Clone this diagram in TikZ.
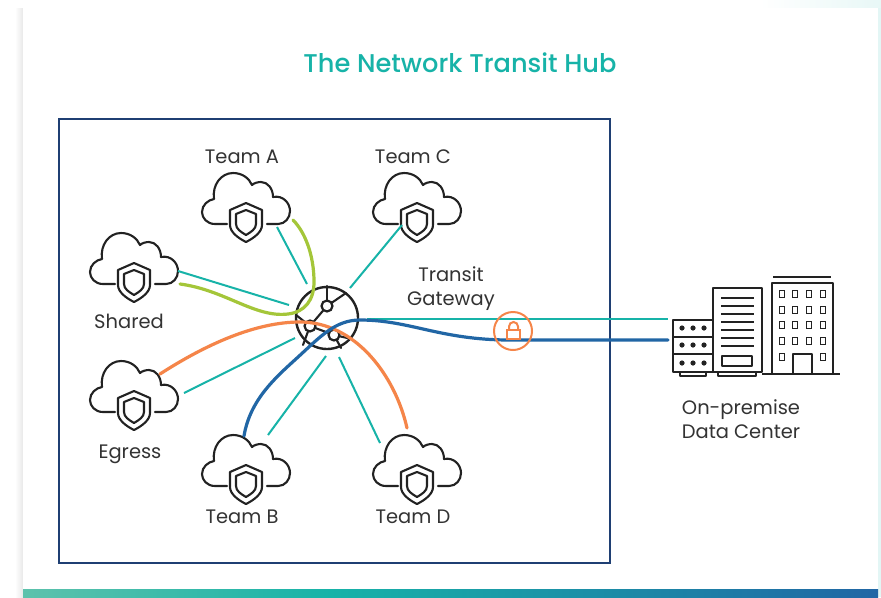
\documentclass[tikz,border=0pt]{standalone}
\usepackage{fontspec}
\setmainfont{Poppins}
\newfontfamily\titlefont{Poppins Medium}
\definecolor{tealc}{HTML}{17B3A8}
\definecolor{greenc}{HTML}{A4C639}
\definecolor{orangec}{HTML}{F58549}
\definecolor{bluec}{HTML}{2166A5}
\definecolor{navyc}{HTML}{1F3F73}
\definecolor{inkc}{HTML}{222222}
\definecolor{labelc}{HTML}{333333}
\definecolor{barstart}{HTML}{5DC2AC}
\tikzset{
  teallink/.style={draw=tealc,line width=2pt*0.75},
  greenlink/.style={draw=greenc,line width=3.2pt*0.75,line cap=round},
  orangelink/.style={draw=orangec,line width=3.2pt*0.75,line cap=round},
  bluelink/.style={draw=bluec,line width=3.2pt*0.75,line cap=round},
  lab/.style={text=labelc,font=\fontsize{14.6}{17}\selectfont,align=center,inner sep=0pt},
  ink/.style={draw=inkc,line width=2.1pt*0.75,line cap=round,line join=round},
  inkthin/.style={draw=inkc,line width=1.8pt*0.75},
  hubsmall/.style={circle,draw=inkc,line width=2.2pt*0.75,fill=white,minimum size=11*0.75pt,inner sep=0pt},
  lockline/.style={draw=orangec,line width=2pt*0.75},
  pics/cloudshield/.style={code={
    \draw[ink] (-19,1) -- (-31,1) .. controls (-39,1) and (-44,-5) .. (-44,-11)
      .. controls (-44,-18) and (-38,-23) .. (-32,-24)
      .. controls (-34,-38) and (-25,-50) .. (-13,-50)
      .. controls (-4,-50) and (3,-45) .. (6,-38)
      .. controls (8,-40) and (12,-41) .. (15,-41)
      .. controls (22,-41) and (27,-34) .. (27,-26)
      .. controls (37,-28) and (44,-20) .. (44,-12)
      .. controls (44,-5) and (39,1) .. (32,1) -- (21,1);
    \draw[ink] (0,-20) -- (16,-13) -- (16,2) .. controls (16,9) and (8,15) .. (0,19)
      .. controls (-8,15) and (-16,9) .. (-16,2) -- (-16,-13) -- cycle;
    \draw[ink] (0,-13) -- (10,-9) -- (10,1) .. controls (10,6) and (5,9) .. (0,12)
      .. controls (-5,9) and (-10,6) .. (-10,1) -- (-10,-9) -- cycle;
  }}
}
\begin{document}
\begin{tikzpicture}[x=0.75pt,y=-0.75pt]
\useasboundingbox (0,0) rectangle (881,597);
% page surround
\fill[white] (0,0) rectangle (881,597);
\shade[left color=white,right color=black!9] (15,8) rectangle (23,597);
\shade[left color=white,right color=tealc!10] (760,0) rectangle (881,8);
\fill[tealc!12] (878,8) rectangle (881,597);
\fill[white] (23,8) rectangle (878,589);
\shade[left color=barstart,right color=tealc] (23,589) rectangle (330,597);
\shade[left color=tealc,right color=bluec] (330,589) rectangle (878,597);
% title and frame
\node[text=tealc,font=\titlefont\fontsize{19.25}{22}\selectfont] (title) at (460,63) {The Network Transit Hub};
\draw[navyc,line width=2.2pt*0.75] (59,119) rectangle (610,563);
% clouds
\pic at (246,223) {cloudshield};
\pic at (417,223) {cloudshield};
\pic at (134,283) {cloudshield};
\pic at (134,411) {cloudshield};
\pic at (246,485) {cloudshield};
\pic at (417,485) {cloudshield};
\node[lab] (teamA) at (242,157) {Team A};
\node[lab] (teamC) at (413,157) {Team C};
\node[lab] (shared) at (129,321) {Shared};
\node[lab] (egress) at (130,454) {Egress};
\node[lab] (teamB) at (242,517) {Team B};
\node[lab] (teamD) at (413,517) {Team D};
\node[lab] (gw) at (451,289) {Transit\\[1pt]Gateway};
\node[lab] (dc) at (741,419) {On-premise\\[1pt]Data Center};
% connector ends
\coordinate (a1) at (277,227); \coordinate (a2) at (307,284);
\coordinate (c1) at (402,225); \coordinate (c2) at (350,288);
\coordinate (s1) at (178,271); \coordinate (s2) at (289,305);
\coordinate (e1) at (184,393); \coordinate (e2) at (295,338);
\coordinate (b1) at (268,435); \coordinate (b2) at (326,356);
\coordinate (d1) at (380,443); \coordinate (d2) at (339,357);
\coordinate (g1) at (367,319); \coordinate (g2) at (668,319);
\coordinate (gs) at (180,284); \coordinate (ga) at (293,220);
\coordinate (gm) at (288,314); \coordinate (gn) at (314,282);
\coordinate (os) at (160,374); \coordinate (om) at (300,322); \coordinate (od) at (407,428);
\coordinate (bb) at (244,436); \coordinate (bm) at (297,358); \coordinate (bn) at (360,320);
\coordinate (bo) at (510,340); \coordinate (be) at (668,340);
% hub
\node[circle,draw=inkc,line width=2.4pt*0.75,fill=white,minimum size=62*0.75pt,inner sep=0pt] (hub) at (327,318) {};
\begin{scope}[ink]
\draw (327,306) -- (hub.north);
\draw (327,306) -- (346,293);
\draw (327,306) -- (310,326);
\draw (310,326) -- (334,335);
\draw (310,326) -- (296,315);
\draw (310,326) -- (303,345);
\draw (334,335) -- (352,339);
\draw (334,335) -- (341,348);
\end{scope}
\node[hubsmall] (h1) at (327,306) {};
\node[hubsmall] (h2) at (310,326) {};
\node[hubsmall] (h3) at (334,335) {};
% teal links
\draw[teallink] (a1) -- (a2);
\draw[teallink] (c1) -- (c2);
\draw[teallink] (s1) -- (s2);
\draw[teallink] (e1) -- (e2);
\draw[teallink] (b1) -- (b2);
\draw[teallink] (d1) -- (d2);
\draw[teallink] (g1) -- (g2);
% coloured curves
\draw[greenlink] (gs) .. controls (225,290) and (255,318) .. (gm)
  .. controls (305,312) and (314,300) .. (gn)
  .. controls (314,255) and (305,232) .. (ga);
\draw[orangelink] (os) .. controls (205,345) and (255,322) .. (om)
  .. controls (355,322) and (395,375) .. (od);
\draw[bluelink] (bb) .. controls (250,400) and (275,378) .. (bm)
  .. controls (320,337) and (335,320) .. (bn)
  .. controls (410,320) and (440,340) .. (bo) -- (be);
% lock
\node[circle,lockline,minimum size=38*0.75pt,inner sep=0pt] (lock) at (513,331) {};
\draw[lockline] (507,330) rectangle (520,339);
\draw[lockline] (509,330) -- (509,326.5) arc[start angle=180,end angle=360,radius=4.5] -- (518,330);
% buildings
\begin{scope}[ink,line cap=butt]
\draw (673,320) rectangle (713,372);
\draw (673,337) -- (713,337);
\draw (673,354) -- (713,354);
\draw (680,372) -- (680,376) -- (706,376) -- (706,372);
\draw (713,288) rectangle (762,372);
\draw (722,356) rectangle (752,366);
\draw (718,372) -- (718,376) -- (756,376) -- (756,372);
\draw (772,374) -- (772,283) -- (833,283) -- (833,374);
\draw (773,277) -- (831,277);
\draw (762,374) -- (840,374);
\draw (793,374) -- (793,354) -- (812,354) -- (812,374);
\end{scope}
\foreach \yy in {328,345,363}\foreach \xx in {682,693,704}
  \fill[inkc] (\xx,\yy) circle[radius=2.6];
\foreach \yy in {298,306,314,322,330,338,346}
  \draw[inkthin] (721,\yy) -- (754,\yy);
\foreach \yy in {294,310,325,341}\foreach \xx in {782,795,809,823}
  \draw[inkthin] (\xx-2.5,\yy-3.5) rectangle (\xx+2.5,\yy+3.5);
\foreach \xx in {782,823}
  \draw[inkthin] (\xx-2.5,353.5) rectangle (\xx+2.5,360.5);
\end{tikzpicture}
\end{document}
